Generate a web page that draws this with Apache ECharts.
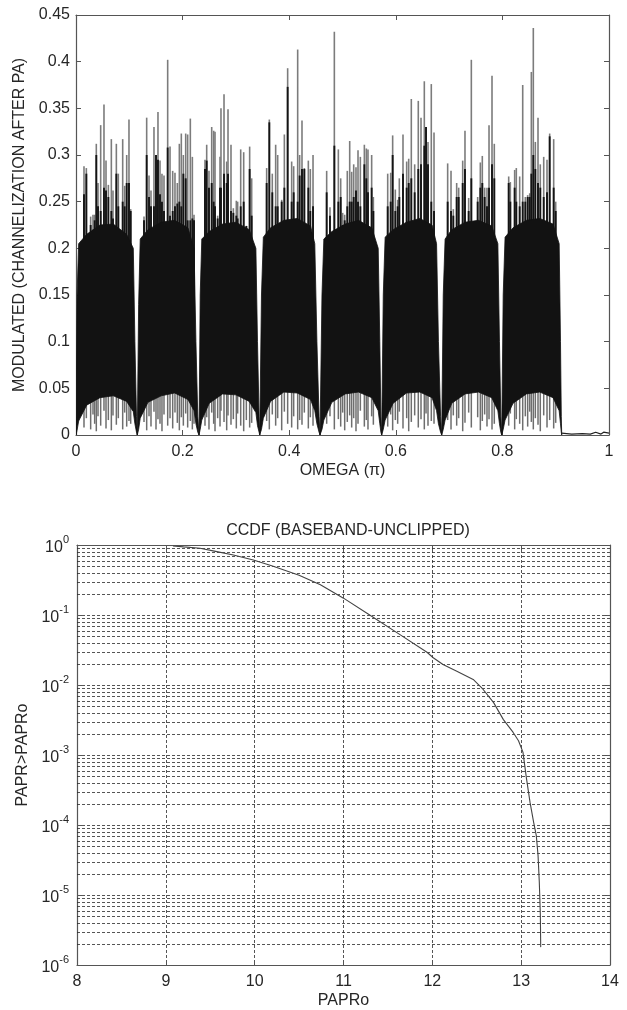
<!DOCTYPE html>
<html><head><meta charset="utf-8">
<script src="https://cdn.jsdelivr.net/npm/echarts@6/dist/echarts.min.js"></script>
<style>html,body{margin:0;padding:0;background:#fff}#c{width:627px;height:1010px}</style>
</head><body><div id="c"></div>
<script>
const FONT = '"Liberation Sans", Arial, Helvetica, sans-serif';

// ---------- Top panel: modulated spectrum (8 channels) ----------
// tick labels
const omegaTicks = [0, 0.2, 0.4, 0.6, 0.8, 1];
const ampTicks = [0, 0.05, 0.1, 0.15, 0.2, 0.25, 0.3, 0.35, 0.4, 0.45];

// solid body envelope of the channels (omega, upper edge, lower edge)
const envX = [
  0.0000,0.0020,0.0050,0.0200,0.0450,0.0700,0.0950,0.1075,0.1105,0.1135,
  0.1150,0.1175,0.1205,0.1350,0.1600,0.1850,0.2100,0.2215,0.2250,0.2285,
  0.2308,0.2330,0.2360,0.2500,0.2750,0.3000,0.3250,0.3375,0.3405,0.3435,
  0.3447,0.3480,0.3515,0.3650,0.3900,0.4150,0.4400,0.4480,0.4520,0.4560,
  0.4578,0.4615,0.4650,0.4800,0.5050,0.5300,0.5550,0.5670,0.5700,0.5720,
  0.5735,0.5765,0.5800,0.5950,0.6200,0.6450,0.6680,0.6765,0.6800,0.6840,
  0.6861,0.6890,0.6925,0.7050,0.7300,0.7550,0.7800,0.7915,0.7945,0.7970,
  0.7987,0.8015,0.8050,0.8200,0.8450,0.8700,0.8950,0.9065,0.9090,0.9105,
  0.9113];
const envTop = [
  0.000,0.150,0.205,0.215,0.225,0.226,0.215,0.200,0.100,0.020,
  0.000,0.140,0.210,0.220,0.228,0.230,0.222,0.200,0.100,0.020,
  0.000,0.150,0.210,0.218,0.226,0.228,0.220,0.200,0.100,0.020,
  0.000,0.150,0.212,0.222,0.230,0.232,0.224,0.205,0.100,0.020,
  0.000,0.150,0.210,0.218,0.226,0.230,0.222,0.200,0.100,0.020,
  0.000,0.150,0.212,0.220,0.228,0.232,0.225,0.205,0.100,0.020,
  0.000,0.150,0.210,0.220,0.228,0.230,0.224,0.205,0.100,0.020,
  0.000,0.150,0.212,0.222,0.230,0.232,0.226,0.205,0.100,0.020,
  0.000];
const envBottom = [
  0.000,0.005,0.015,0.032,0.040,0.042,0.036,0.025,0.012,0.003,
  0.000,0.006,0.018,0.035,0.042,0.045,0.038,0.026,0.012,0.003,
  0.000,0.006,0.016,0.034,0.044,0.043,0.036,0.024,0.010,0.003,
  0.000,0.006,0.018,0.036,0.046,0.045,0.038,0.026,0.012,0.003,
  0.000,0.006,0.016,0.035,0.044,0.046,0.040,0.026,0.012,0.003,
  0.000,0.006,0.016,0.034,0.045,0.046,0.040,0.026,0.012,0.003,
  0.000,0.006,0.016,0.034,0.044,0.046,0.040,0.026,0.012,0.003,
  0.000,0.006,0.016,0.034,0.044,0.046,0.040,0.026,0.012,0.003,
  0.000];

// spikes: position, peak (grey tip), dense dark part, lowest dip
const spikeOmega = [
  0.0150,0.0194,0.0275,0.0319,0.0350,0.0381,0.0413,0.0463,0.0525,0.0563,0.0607,0.0663,0.0694,0.0757,0.0794,0.0876,0.0913,0.0951,0.0994,0.1026,
  0.1276,0.1326,0.1370,0.1407,0.1463,0.1501,0.1538,0.1576,0.1613,0.1651,0.1720,0.1764,0.1814,0.1857,0.1901,0.1939,0.1976,0.2014,0.2058,0.2095,0.2145,0.2183,0.2214,
  0.2420,0.2452,0.2495,0.2546,0.2583,0.2608,0.2658,0.2702,0.2720,0.2777,0.2827,0.2852,0.2908,0.2952,0.3008,0.3033,0.3090,0.3146,0.3196,0.3258,0.3296,
  0.3577,0.3627,0.3683,0.3746,0.3784,0.3859,0.3909,0.3971,0.4046,0.4084,0.4159,0.4196,0.4240,0.4284,0.4359,0.4396,0.4447,
  0.4703,0.4765,0.4847,0.4922,0.4966,0.5003,0.5041,0.5090,0.5135,0.5172,0.5210,0.5253,0.5291,0.5335,0.5410,0.5447,0.5478,0.5547,0.5579,
  0.5848,0.5904,0.5941,0.5991,0.6035,0.6066,0.6135,0.6204,0.6242,0.6291,0.6354,0.6422,0.6473,0.6535,0.6567,0.6604,0.6666,0.6717,
  0.6973,0.7036,0.7079,0.7142,0.7180,0.7255,0.7298,0.7367,0.7417,0.7536,0.7586,0.7623,0.7667,0.7711,0.7749,0.7805,0.7848,
  0.8118,0.8149,0.8230,0.8261,0.8324,0.8381,0.8430,0.8474,0.8512,0.8543,0.8580,0.8618,0.8668,0.8711,0.8775,0.8837,0.8887,0.8962,0.9000];
const spikePeak = [
  0.288,0.286,0.234,0.236,0.236,0.312,0.270,0.332,0.354,0.294,0.268,0.317,0.262,0.312,0.280,0.317,0.267,0.300,0.338,0.242,
  0.234,0.340,0.278,0.262,0.330,0.300,0.346,0.294,0.280,0.278,0.402,0.309,0.283,0.281,0.270,0.312,0.323,0.300,0.323,0.322,0.339,0.298,0.236,
  0.295,0.311,0.283,0.330,0.326,0.325,0.235,0.298,0.350,0.365,0.293,0.349,0.311,0.243,0.251,0.250,0.306,0.303,0.224,0.309,0.275,
  0.286,0.338,0.280,0.311,0.300,0.252,0.322,0.393,0.293,0.288,0.413,0.300,0.337,0.286,0.294,0.285,0.300,
  0.283,0.244,0.432,0.306,0.275,0.238,0.236,0.283,0.315,0.282,0.290,0.287,0.305,0.298,0.311,0.307,0.306,0.300,0.255,
  0.280,0.281,0.321,0.263,0.252,0.275,0.322,0.293,0.296,0.360,0.290,0.358,0.340,0.379,0.330,0.314,0.376,0.324,
  0.291,0.283,0.242,0.270,0.265,0.294,0.326,0.254,0.402,0.255,0.292,0.299,0.265,0.265,0.332,0.385,0.312,
  0.277,0.271,0.284,0.286,0.277,0.375,0.255,0.257,0.259,0.389,0.436,0.314,0.340,0.290,0.298,0.295,0.323,0.317,0.250];
const spikeCore = [
  0.258,0.280,0.225,0.220,0.230,0.300,0.245,0.240,0.265,0.262,0.255,0.240,0.232,0.280,0.245,0.250,0.245,0.270,0.270,0.240,
  0.230,0.300,0.255,0.245,0.245,0.300,0.295,0.258,0.250,0.240,0.308,0.235,0.240,0.245,0.248,0.250,0.245,0.280,0.275,0.230,0.230,0.232,0.230,
  0.285,0.294,0.265,0.270,0.250,0.245,0.232,0.265,0.265,0.280,0.270,0.280,0.240,0.238,0.235,0.232,0.245,0.250,0.224,0.285,0.235,
  0.270,0.335,0.260,0.245,0.245,0.250,0.265,0.373,0.250,0.260,0.250,0.278,0.285,0.285,0.265,0.240,0.245,
  0.260,0.235,0.310,0.250,0.255,0.225,0.230,0.245,0.250,0.250,0.255,0.262,0.250,0.245,0.290,0.275,0.260,0.265,0.240,
  0.245,0.250,0.300,0.240,0.245,0.255,0.280,0.265,0.270,0.275,0.260,0.285,0.290,0.310,0.330,0.290,0.250,0.240,
  0.250,0.240,0.235,0.255,0.255,0.270,0.285,0.240,0.275,0.250,0.265,0.270,0.255,0.245,0.265,0.290,0.275,
  0.270,0.250,0.265,0.250,0.245,0.250,0.250,0.255,0.255,0.280,0.300,0.285,0.270,0.265,0.255,0.260,0.320,0.265,0.240];
const spikeDip = [
  0.008,0.018,0.006,0.022,0.012,0.004,0.020,0.010,0.026,0.007,0.016,0.005,0.021,0.011,0.018,0.006,0.024,0.009,0.015,0.012,
  0.014,0.005,0.020,0.009,0.025,0.006,0.017,0.012,0.004,0.022,0.010,0.018,0.007,0.024,0.013,0.005,0.019,0.010,0.023,0.008,0.015,0.006,0.012,
  0.010,0.019,0.006,0.024,0.012,0.004,0.018,0.009,0.026,0.014,0.005,0.021,0.011,0.017,0.007,0.023,0.010,0.004,0.016,0.008,0.013,
  0.015,0.006,0.022,0.010,0.018,0.005,0.025,0.012,0.008,0.020,0.006,0.016,0.011,0.024,0.007,0.019,0.010,
  0.012,0.020,0.006,0.017,0.009,0.024,0.005,0.014,0.021,0.008,0.018,0.004,0.012,0.026,0.009,0.016,0.006,0.020,0.011,
  0.009,0.022,0.005,0.016,0.012,0.025,0.007,0.018,0.004,0.014,0.021,0.008,0.017,0.006,0.023,0.010,0.015,0.012,
  0.016,0.006,0.021,0.010,0.018,0.004,0.013,0.024,0.008,0.019,0.005,0.015,0.022,0.009,0.017,0.006,0.012,
  0.010,0.023,0.006,0.017,0.012,0.005,0.020,0.009,0.025,0.014,0.006,0.018,0.011,0.004,0.021,0.008,0.016,0.007,0.013];

// residual floor above the last channel
const tailOmega = [0.9113, 0.930, 0.950, 0.965, 0.975, 0.985, 0.990, 1.000];
const tailValue = [0.002, 0.001, 0.0015, 0.001, 0.003, 0.001, 0.003, 0.002];

// ---------- Bottom panel: CCDF ----------
const paprTicks = [8, 9, 10, 11, 12, 13, 14];
const paprX = [9.08, 9.20, 9.385, 9.56, 9.76, 9.985, 10.20, 10.50, 10.74, 11.00, 11.26, 11.64, 11.94, 12.01,
  12.12, 12.27, 12.46, 12.57, 12.69, 12.80, 12.91, 12.97, 13.02, 13.06, 13.10, 13.14, 13.17, 13.19, 13.204, 13.216, 13.22];
const ccdfY = [0.97, 0.94, 0.90, 0.81, 0.72, 0.61, 0.50, 0.37, 0.27, 0.174, 0.107, 0.052, 0.0294, 0.0245,
  0.0196, 0.0158, 0.012, 0.0087, 0.0056, 0.0032, 0.0021, 0.0016, 0.0011, 0.00046, 0.00021, 0.00011, 7.1e-5, 3.7e-5, 1.55e-5, 5.2e-6, 1.8e-6];

// ---------- rendering ----------
const chart = echarts.init(document.getElementById('c'), null, {renderer: 'canvas'});
const TXT = '#262626', AX = '#555';
const lbl = {fontSize: 16, color: TXT, fontFamily: FONT};

function stemSeries(data, color, width, z) {
  return {
    type: 'custom', xAxisIndex: 0, yAxisIndex: 0, z: z, silent: true, clip: true,
    data: data,
    renderItem: function (params, api) {
      const p1 = api.coord([api.value(0), api.value(1)]);
      const p2 = api.coord([api.value(0), api.value(2)]);
      return {type: 'line', shape: {x1: p1[0], y1: p1[1], x2: p2[0], y2: p2[1]},
        style: {stroke: color, lineWidth: width}};
    }
  };
}

const upGrey = spikeOmega.map((w, i) => [w, 0.15, spikePeak[i]]);
const upDark = spikeOmega.map((w, i) => [w, 0.15, spikeCore[i]]);
const downStems = spikeOmega.map((w, i) => [w, spikeDip[i], 0.08]);

const bodySeries = {
  type: 'custom', xAxisIndex: 0, yAxisIndex: 0, z: 4, silent: true, clip: true,
  data: [[0, 0]],
  renderItem: function (params, api) {
    const pts = [];
    for (let i = 0; i < envX.length; i++) pts.push(api.coord([envX[i], envTop[i]]));
    for (let i = envX.length - 1; i >= 0; i--) pts.push(api.coord([envX[i], envBottom[i]]));
    return {type: 'polygon', shape: {points: pts}, style: {fill: '#121212', stroke: '#121212', lineWidth: 0.8}};
  }
};

// minor log grid lines (2..9 x 10^n)
const minorVals = [];
for (let e = -6; e < 0; e++) for (let m = 2; m <= 9; m++) minorVals.push([8, m * Math.pow(10, e)]);

const dashStyle = {color: '#2a2a2a', width: 0.8, type: [3, 2]};

const minorGrid = {
  type: 'custom', xAxisIndex: 2, yAxisIndex: 2, z: 1, silent: true, clip: true,
  data: minorVals,
  renderItem: function (params, api) {
    const v = api.value(1);
    const p1 = api.coord([8, v]);
    const p2 = api.coord([14, v]);
    return {type: 'line', shape: {x1: p1[0], y1: Math.round(p1[1]) + 0.5, x2: p2[0], y2: Math.round(p2[1]) + 0.5},
      style: {stroke: '#2a2a2a', lineWidth: 0.8, lineDash: [3, 2]}};
  }
};

const tickStyle = {inside: true, length: 5, lineStyle: {color: AX}};
const lineStyleAx = {onZero: false, lineStyle: {color: AX, width: 1.2}};

const option = {
  backgroundColor: '#fff',
  animation: false,
  title: {text: 'CCDF (BASEBAND-UNCLIPPED)', left: 343, top: 518, textAlign: 'center',
    textStyle: {fontSize: 16, fontWeight: 'normal', color: TXT, fontFamily: FONT}},
  grid: [
    {left: 76, right: 18, top: 15, height: 420},
    {left: 77, right: 17, top: 545, height: 422}
  ],
  xAxis: [
    {gridIndex: 0, type: 'value', min: 0, max: 1, interval: 0.2,
      axisLine: lineStyleAx, axisTick: tickStyle,
      axisLabel: Object.assign({margin: 9, formatter: v => String(omegaTicks.find(t => Math.abs(t - v) < 1e-9) ?? v)}, lbl),
      splitLine: {show: false},
      name: 'OMEGA (π)', nameLocation: 'middle', nameGap: 28, nameTextStyle: lbl},
    {gridIndex: 0, type: 'value', min: 0, max: 1, interval: 0.2, position: 'top',
      axisLine: lineStyleAx, axisTick: tickStyle,
      axisLabel: {show: false}, splitLine: {show: false}},
    {gridIndex: 1, type: 'value', min: 8, max: 14, interval: 1,
      axisLine: lineStyleAx, axisTick: tickStyle,
      axisLabel: Object.assign({margin: 9}, lbl),
      splitLine: {show: true, lineStyle: dashStyle},
      name: 'PAPRo', nameLocation: 'middle', nameGap: 28, nameTextStyle: lbl},
    {gridIndex: 1, type: 'value', min: 8, max: 14, interval: 1, position: 'top',
      axisLine: lineStyleAx, axisTick: tickStyle,
      axisLabel: {show: false}, splitLine: {show: false}}
  ],
  yAxis: [
    {gridIndex: 0, type: 'value', min: 0, max: 0.45, interval: 0.05,
      axisLine: lineStyleAx, axisTick: tickStyle,
      axisLabel: Object.assign({margin: 6, formatter: v => String(ampTicks.find(t => Math.abs(t - v) < 1e-9) ?? v)}, lbl),
      splitLine: {show: false},
      name: 'MODULATED (CHANNELIZATION AFTER PA)', nameLocation: 'middle', nameGap: 48, nameTextStyle: lbl},
    {gridIndex: 0, type: 'value', min: 0, max: 0.45, interval: 0.05, position: 'right',
      axisLine: lineStyleAx, axisTick: tickStyle,
      axisLabel: {show: false}, splitLine: {show: false}},
    {gridIndex: 1, type: 'log', logBase: 10, min: 1e-6, max: 1, interval: 1,
      axisLine: lineStyleAx, axisTick: tickStyle,
      axisLabel: {margin: 8, formatter: function (v) {
          const e = Math.round(Math.log10(v));
          return '{b|10}{s|' + e + '}';
        },
        rich: {b: {fontSize: 16, color: TXT, fontFamily: FONT, verticalAlign: 'bottom', lineHeight: 22},
               s: {fontSize: 11, color: TXT, fontFamily: FONT, verticalAlign: 'top', lineHeight: 22}}},
      splitLine: {show: true, lineStyle: dashStyle},
      name: 'PAPR>PAPRo', nameLocation: 'middle', nameGap: 42, nameTextStyle: lbl},
    {gridIndex: 1, type: 'log', logBase: 10, min: 1e-6, max: 1, interval: 1, position: 'right',
      axisLine: lineStyleAx, axisTick: tickStyle,
      axisLabel: {show: false}, splitLine: {show: false}}
  ],
  series: [
    stemSeries(downStems, '#6e6e6e', 1.5, 2),
    stemSeries(upGrey, '#7c7c7c', 1.6, 2),
    stemSeries(upDark, '#141414', 1.9, 3),
    bodySeries,
    {type: 'line', xAxisIndex: 0, yAxisIndex: 0, z: 5, showSymbol: false, silent: true,
      data: tailOmega.map((w, i) => [w, tailValue[i]]),
      lineStyle: {color: '#222', width: 1.2}},
    minorGrid,
    {type: 'line', xAxisIndex: 2, yAxisIndex: 2, z: 5, showSymbol: false, silent: true, smooth: false,
      data: paprX.map((x, i) => [x, ccdfY[i]]),
      lineStyle: {color: '#444', width: 1.1}}
  ]
};
chart.setOption(option);
</script></body></html>
